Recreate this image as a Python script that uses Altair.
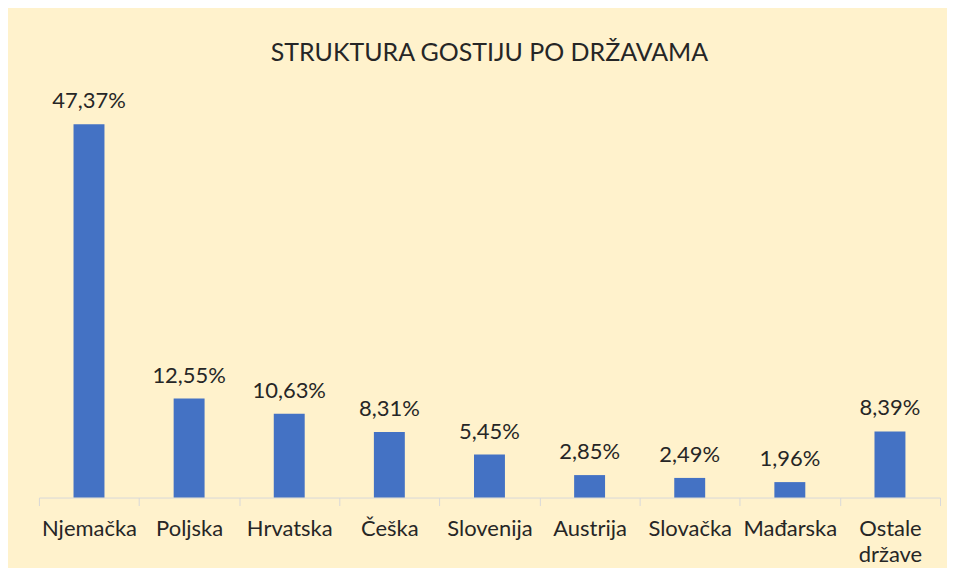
import altair as alt
import pandas as pd

countries = ["Njemačka", "Poljska", "Hrvatska", "Češka", "Slovenija",
             "Austrija", "Slovačka", "Mađarska", "Ostale države"]
shares = [47.37, 12.55, 10.63, 8.31, 5.45, 2.85, 2.49, 1.96, 8.39]
labels = ["47,37%", "12,55%", "10,63%", "8,31%", "5,45%",
          "2,85%", "2,49%", "1,96%", "8,39%"]

df = pd.DataFrame({"country": countries, "share": shares, "label": labels})

FONT = "Lato"
TEXT = "#262626"

x = alt.X("country:N", sort=countries, title=None,
          scale=alt.Scale(paddingInner=0, paddingOuter=0),
          axis=alt.Axis(labelAngle=0, labelFont=FONT, labelFontSize=22,
                        labelColor=TEXT, labelPadding=13, labelLineHeight=26,
                        labelExpr="datum.value == 'Ostale države' ? ['Ostale', 'države'] : datum.label",
                        domainColor="#D9D9D9", tickColor="#D9D9D9",
                        tickSize=8, tickBand="extent", grid=False))
y = alt.Y("share:Q", scale=alt.Scale(domain=[0, 50]), axis=None)

bars = alt.Chart(df).mark_bar(color="#4472C4", size=31).encode(x=x, y=y)
text = alt.Chart(df).mark_text(font=FONT, fontSize=22, color=TEXT,
                               baseline="bottom", dy=-11).encode(
    x=alt.X("country:N", sort=countries), y=y, text="label:N")

chart = (bars + text).properties(
    width=903, height=395,
    title=alt.TitleParams("STRUKTURA GOSTIJU PO DRŽAVAMA", font=FONT,
                          fontSize=25, fontWeight="normal", color=TEXT,
                          anchor="middle", offset=24),
    padding={"left": 30, "top": 32, "right": 6, "bottom": 2},
).configure(background="#FFF2CC").configure_view(stroke=None)

chart.save("out.html", embed_options={"renderer": "svg", "actions": False})
